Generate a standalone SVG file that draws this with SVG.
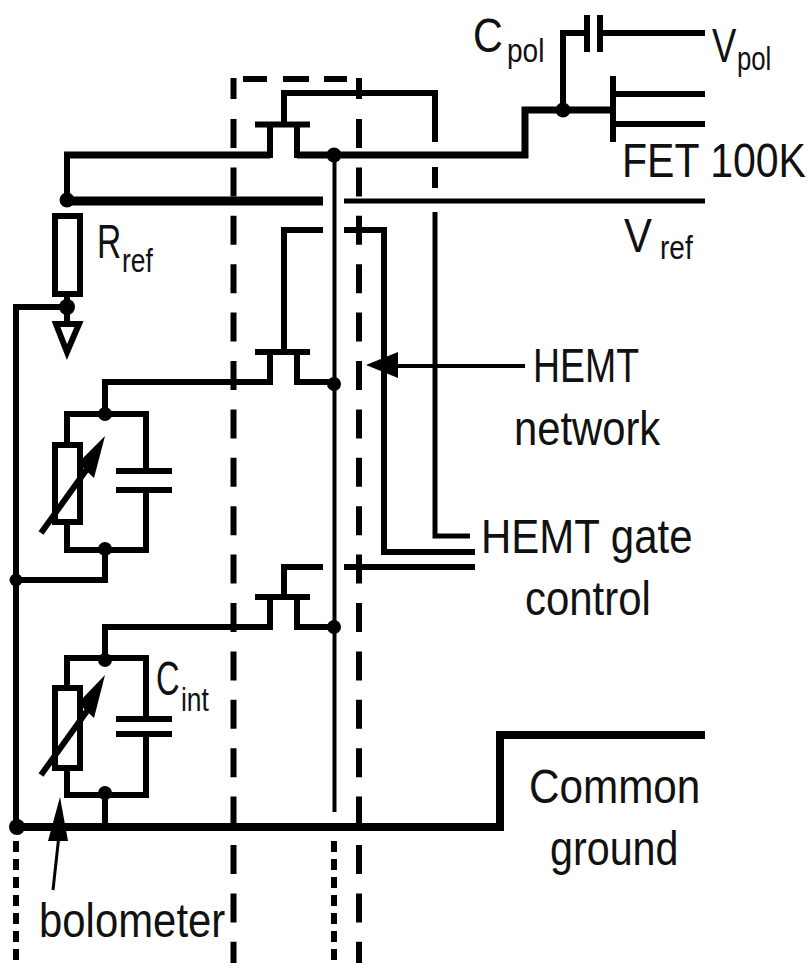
<svg xmlns="http://www.w3.org/2000/svg" width="811" height="963" viewBox="0 0 811 963">
<style>
.w{fill:none;stroke:#000;stroke-width:6;stroke-linejoin:miter}
.t{fill:none;stroke:#000;stroke-width:7}
.n{fill:none;stroke:#000;stroke-width:4}
.d{fill:none;stroke:#000;stroke-width:6;stroke-dasharray:29 19.4}
.s{fill:none;stroke:#000;stroke-width:6;stroke-dasharray:11 7}
.f{fill:#000;stroke:none}
text{font-family:"Liberation Sans",Arial,sans-serif;fill:#111;font-size:48px}
.b{font-size:33px}
</style>
<rect width="811" height="963" fill="#fff"/>
<g id="connectors">
<path class="d" d="M233.500 119V963M359 119V963"/>
<path class="w" d="M233.500 78V99M359 78V99M243 79H267M283 79H309M324 79H347"/>
<path class="w" d="M284 124V93H435V142M435 167V188"/>
<path class="n" style="stroke-width:5" d="M435 212V536H470"/>
<path class="t" d="M64 155H270M297 155H525V110H612"/>
<path class="w" d="M67 155V200"/>
<path class="w" style="stroke-width:9" d="M67 201H323"/>
<path class="w" style="stroke-width:5" d="M344 201H705"/>
<path class="w" d="M323 230H284V352M344 230H384V552H475"/>
<path class="w" d="M323 567H284V597M344 567H475"/>
<path class="n" d="M334.500 155V812"/>
<path class="w" d="M270 382H105V414M297 382H334M270 627H105V658M297 627H334"/>
<path class="w" d="M67 294V321M67 307H16V827"/>
<path class="w" d="M105 549V580H16M105 793V827"/>
<path class="t" style="stroke-width:8" d="M16 827H500V735H705"/>
<path class="w" d="M563 110V33H587M600 33H705M613 94H705M613 124H705"/>
<path class="s" d="M16 841V963M334 841V963"/>
<path class="w" style="stroke-width:4" d="M525 366H385"/>
<polygon class="f" points="366,365 398,352 398,378"/>
<path class="w" style="stroke-width:3" d="M53 890L59 835"/>
<polygon class="f" points="60,797 48,841 68,841"/>
<circle class="f" cx="334" cy="155" r="7.500"/>
<circle class="f" cx="334" cy="384" r="7"/>
<circle class="f" cx="334" cy="627" r="7"/>
<circle class="f" cx="67" cy="200" r="7.500"/>
<circle class="f" cx="67" cy="307" r="8"/>
<circle class="f" cx="16" cy="580" r="6.500"/>
<circle class="f" cx="17" cy="827" r="8"/>
<circle class="f" cx="563" cy="110" r="7.500"/>
</g>
<g id="fet1"><path class="w" d="M255 124.500H310M270 124.500V158M297 124.500V158"/></g>
<g id="fet2"><path class="w" d="M255 352H310M270 352V385M297 352V385"/></g>
<g id="fet3"><path class="w" d="M255 597H310M270 597V630M297 597V630"/></g>
<g id="rref">
<rect class="w" x="55" y="216" width="25" height="78"/>
<text transform="translate(97 258) scale(.7 1)">R</text>
<text class="b" transform="translate(122 272) scale(.8 1)">ref</text>
</g>
<g id="ground-symbol"><polygon class="w" points="56,324 79,324 67,352"/></g>
<g id="bolometer1">
<path class="w" d="M67 445V414H146V471M146 490V550H67V522"/>
<rect class="w" x="55" y="445" width="25" height="77"/>
<path class="w" d="M116 471H172M116 490H172"/>
<path class="w" d="M41 533L92 462"/>
<polygon class="f" points="105,436 94,478 78,463"/>
<circle class="f" cx="105" cy="414" r="7"/>
<circle class="f" cx="105" cy="549" r="7"/>
</g>
<g id="bolometer2">
<path class="w" d="M67 688V658H146V719M146 734V795H67V768"/>
<rect class="w" x="55" y="688" width="25" height="80"/>
<path class="w" d="M116 719H172M116 734H172"/>
<path class="w" d="M41 775L92 704"/>
<polygon class="f" points="105,675 94,718 78,703"/>
<circle class="f" cx="105" cy="660" r="7"/>
<circle class="f" cx="105" cy="793" r="7"/>
<text transform="translate(156 695) scale(.68 1)">C</text>
<text class="b" transform="translate(181 711) scale(.8 1)">int</text>
</g>
<g id="cpol">
<path class="w" d="M587 15V52M600 15V52"/>
<text transform="translate(473 52) scale(.86 1)">C</text>
<text class="b" transform="translate(507 62) scale(.85 1)">pol</text>
</g>
<g id="fet100k">
<path class="w" d="M613 76V142"/>
<text transform="translate(622 177) scale(.855 1)">FET 100K</text>
</g>
<g id="vpol">
<text transform="translate(712 62) scale(.76 1)">V</text>
<text class="b" transform="translate(737 70) scale(.78 1)">pol</text>
</g>
<g id="vref">
<text transform="translate(624 252) scale(.87 1)">V</text>
<text class="b" transform="translate(660 259) scale(.85 1)">ref</text>
</g>
<g id="hemt-network">
<text transform="translate(533 382) scale(.78 1)">HEMT</text>
<text transform="translate(514 445) scale(.87 1)">network</text>
</g>
<g id="hemt-gate">
<text transform="translate(481 553) scale(.875 1)">HEMT gate</text>
<text transform="translate(525 615) scale(.874 1)">control</text>
</g>
<g id="common-ground">
<text transform="translate(529 803) scale(.88 1)">Common</text>
<text transform="translate(550 865) scale(.86 1)">ground</text>
</g>
<g id="bolometer-label"><text transform="translate(39 937) scale(.873 1)">bolometer</text></g>
</svg>
